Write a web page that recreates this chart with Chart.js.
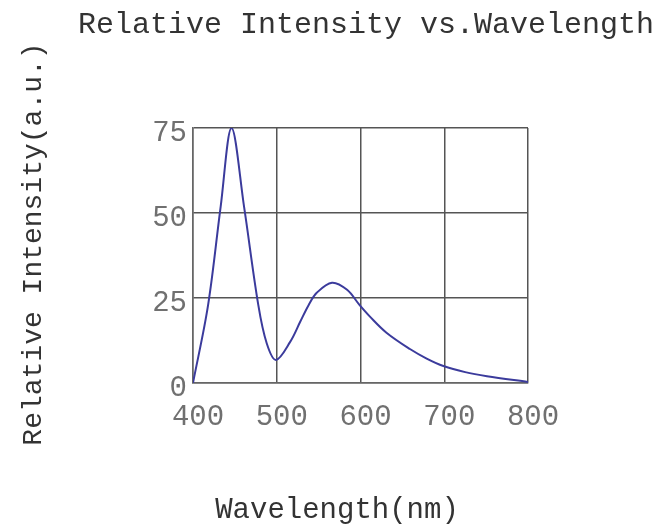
<!DOCTYPE html>
<html>
<head>
<meta charset="utf-8">
<script src="https://cdn.jsdelivr.net/npm/chart.js@4"></script>
<style>
  html, body { margin: 0; padding: 0; background: #fff; }
  #wrap { width: 664px; height: 530px; }
</style>
</head>
<body>
<div id="wrap"><canvas id="chart" width="664" height="530"></canvas></div>
<script>
// values
const wavelengths = [400, 418, 433, 446, 461, 478, 488, 499, 516, 528, 538, 548, 566, 584, 599, 611, 631, 659, 679, 699, 725, 751, 800];
const intensity   = [0, 22.9, 51.8, 75, 51.8, 22.9, 11.7, 6.8, 12.1, 18, 22.9, 26.6, 29.5, 27.4, 22.9, 19.6, 14.8, 10.0, 7.2, 5.0, 3.2, 2.0, 0.3];
const xTicks = [400, 500, 600, 700, 800];
const yTicks = [0, 25, 50, 75];

const titleText = "Relative Intensity vs.Wavelength";
const xTitle = "Wavelength(nm)";
const yTitle = "Relative Intensity(a.u.)";

const points = wavelengths.map((w, i) => ({ x: w, y: intensity[i] }));

// titles drawn at fixed spots, like the scanned sheet
const textPlugin = {
  id: "texts",
  afterDraw(c) {
    const ctx = c.ctx;
    ctx.save();
    ctx.fillStyle = "#333";
    ctx.textBaseline = "alphabetic";
    ctx.textAlign = "left";
    ctx.font = "30px 'Liberation Mono'";
    ctx.fillText(titleText, 78, 33);

    ctx.font = "29px 'Liberation Mono'";
    ctx.textAlign = "center";
    ctx.fillText(xTitle, 337, 518);

    ctx.font = "28px 'Liberation Mono'";
    ctx.translate(41, 244);
    ctx.rotate(-Math.PI / 2);
    ctx.fillText(yTitle, 0, 0);
    ctx.restore();
  }
};

const ctx = document.getElementById("chart").getContext("2d");

new Chart(ctx, {
  type: "line",
  data: {
    datasets: [{
      data: points,
      borderColor: "#3b3b9c",
      borderWidth: 2,
      pointRadius: 0,
      fill: false,
      tension: 0.35
    }]
  },
  options: {
    responsive: false,
    animation: false,
    layout: { padding: { left: 0, right: 136, top: 128, bottom: 0 } },
    plugins: {
      legend: { display: false },
      title: { display: false },
      tooltip: { enabled: false }
    },
    scales: {
      x: {
        type: "linear",
        min: 400,
        max: 800,
        afterFit: s => { s.height = 147; },
        afterBuildTicks: s => { s.ticks = xTicks.map(v => ({ value: v })); },
        grid: { color: "#555", lineWidth: 1.5, drawTicks: false },
        border: { color: "#666", width: 1.5 },
        ticks: {
          color: "#707070",
          padding: 17,
          labelOffset: 5,
          maxRotation: 0,
          font: { family: "Liberation Mono", size: 29 }
        }
      },
      y: {
        min: 0,
        max: 75,
        afterFit: s => { s.width = 193; },
        afterBuildTicks: s => { s.ticks = yTicks.map(v => ({ value: v })); },
        grid: { color: "#555", lineWidth: 1.5, drawTicks: false },
        border: { color: "#666", width: 1.5 },
        ticks: {
          color: "#707070",
          padding: 6,
          labelOffset: 5,
          font: { family: "Liberation Mono", size: 29 }
        }
      }
    }
  },
  plugins: [textPlugin]
});
</script>
</body>
</html>
